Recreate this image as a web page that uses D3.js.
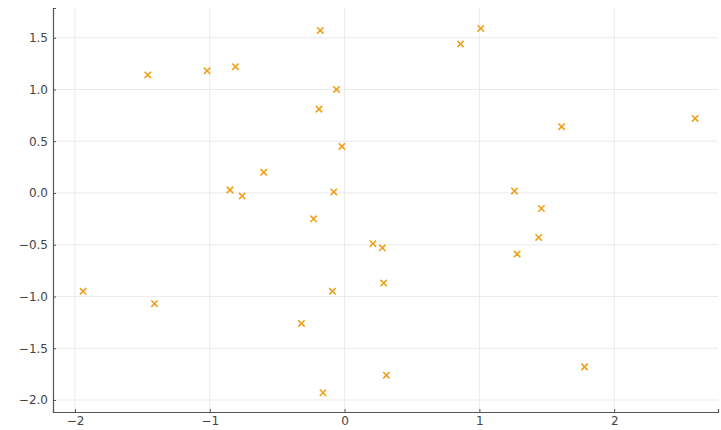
<!DOCTYPE html>
<html>
<head>
<meta charset="utf-8">
<script src="https://cdn.jsdelivr.net/npm/d3@7"></script>
<style>
  html, body { margin: 0; padding: 0; background: #fff; }
  svg { display: block; }
  .tick text { font-family: "DejaVu Sans", sans-serif; font-size: 12px; fill: #444; }
</style>
</head>
<body>
<svg id="chart" width="721" height="430"></svg>
<script>
const xValues = [-1.94, -1.46, -1.41, -1.02, -0.81, -0.85, -0.76, -0.60, -0.32, -0.23,
                 -0.18, -0.19, -0.06, -0.02, -0.08, -0.09, -0.16, 0.21, 0.28, 0.29,
                 0.31, 0.86, 1.01, 1.26, 1.28, 1.46, 1.44, 1.61, 1.78, 2.60];
const yValues = [-0.95, 1.14, -1.07, 1.18, 1.22, 0.03, -0.03, 0.20, -1.26, -0.25,
                 1.57, 0.81, 1.00, 0.45, 0.01, -0.95, -1.93, -0.49, -0.53, -0.87,
                 -1.76, 1.44, 1.59, 0.02, -0.59, -0.15, -0.43, 0.64, -1.68, 0.72];
const xTicks = [-2, -1, 0, 1, 2];
const yTicks = [-2.0, -1.5, -1.0, -0.5, 0.0, 0.5, 1.0, 1.5];
const xDomain = [-2.163, 2.77];
const yDomain = [-2.116, 1.787];

const W = 721, H = 430;
const margin = { left: 53, right: 3, top: 8, bottom: 18 };
const svg = d3.select("#chart");
const x = d3.scaleLinear().domain(xDomain).range([margin.left, W - margin.right]);
const y = d3.scaleLinear().domain(yDomain).range([H - margin.bottom, margin.top]);
const fmtMinus = s => s.replace("-", "\u2212");

// grid
svg.append("g").selectAll("line").data(xTicks).join("line")
  .attr("x1", d => x(d)).attr("x2", d => x(d))
  .attr("y1", margin.top).attr("y2", H - margin.bottom)
  .attr("stroke", "#ebebeb").attr("stroke-width", 1);
svg.append("g").selectAll("line").data(yTicks).join("line")
  .attr("x1", margin.left).attr("x2", W - margin.right)
  .attr("y1", d => y(d)).attr("y2", d => y(d))
  .attr("stroke", "#ebebeb").attr("stroke-width", 1);

// axes (inward ticks)
const xAxis = d3.axisBottom(x).tickValues(xTicks).tickFormat(d => fmtMinus(d3.format("d")(d))).tickSizeOuter(0).tickSize(-3).tickPadding(4);
const yAxis = d3.axisLeft(y).tickValues(yTicks).tickFormat(d => fmtMinus(d3.format(".1f")(d))).tickSizeOuter(0).tickSize(-3).tickPadding(5);
const gx = svg.append("g").attr("transform", `translate(0,${H - margin.bottom})`).call(xAxis);
const gy = svg.append("g").attr("transform", `translate(${margin.left},0)`).call(yAxis);
[gx, gy].forEach(g => {
  g.select(".domain").attr("stroke", "#555").attr("stroke-width", 1.2);
  g.selectAll(".tick line").attr("stroke", "#555");
});

// markers
const data = xValues.map((v, i) => ({ x: v, y: yValues[i] }));
const s = 3.2;
svg.append("g").selectAll("path").data(data).join("path")
  .attr("d", d => {
    const cx = x(d.x), cy = y(d.y);
    return `M${cx - s},${cy - s}L${cx + s},${cy + s}M${cx - s},${cy + s}L${cx + s},${cy - s}`;
  })
  .attr("stroke", "#f0a018").attr("stroke-width", 1.6).attr("fill", "none");
</script>
</body>
</html>
